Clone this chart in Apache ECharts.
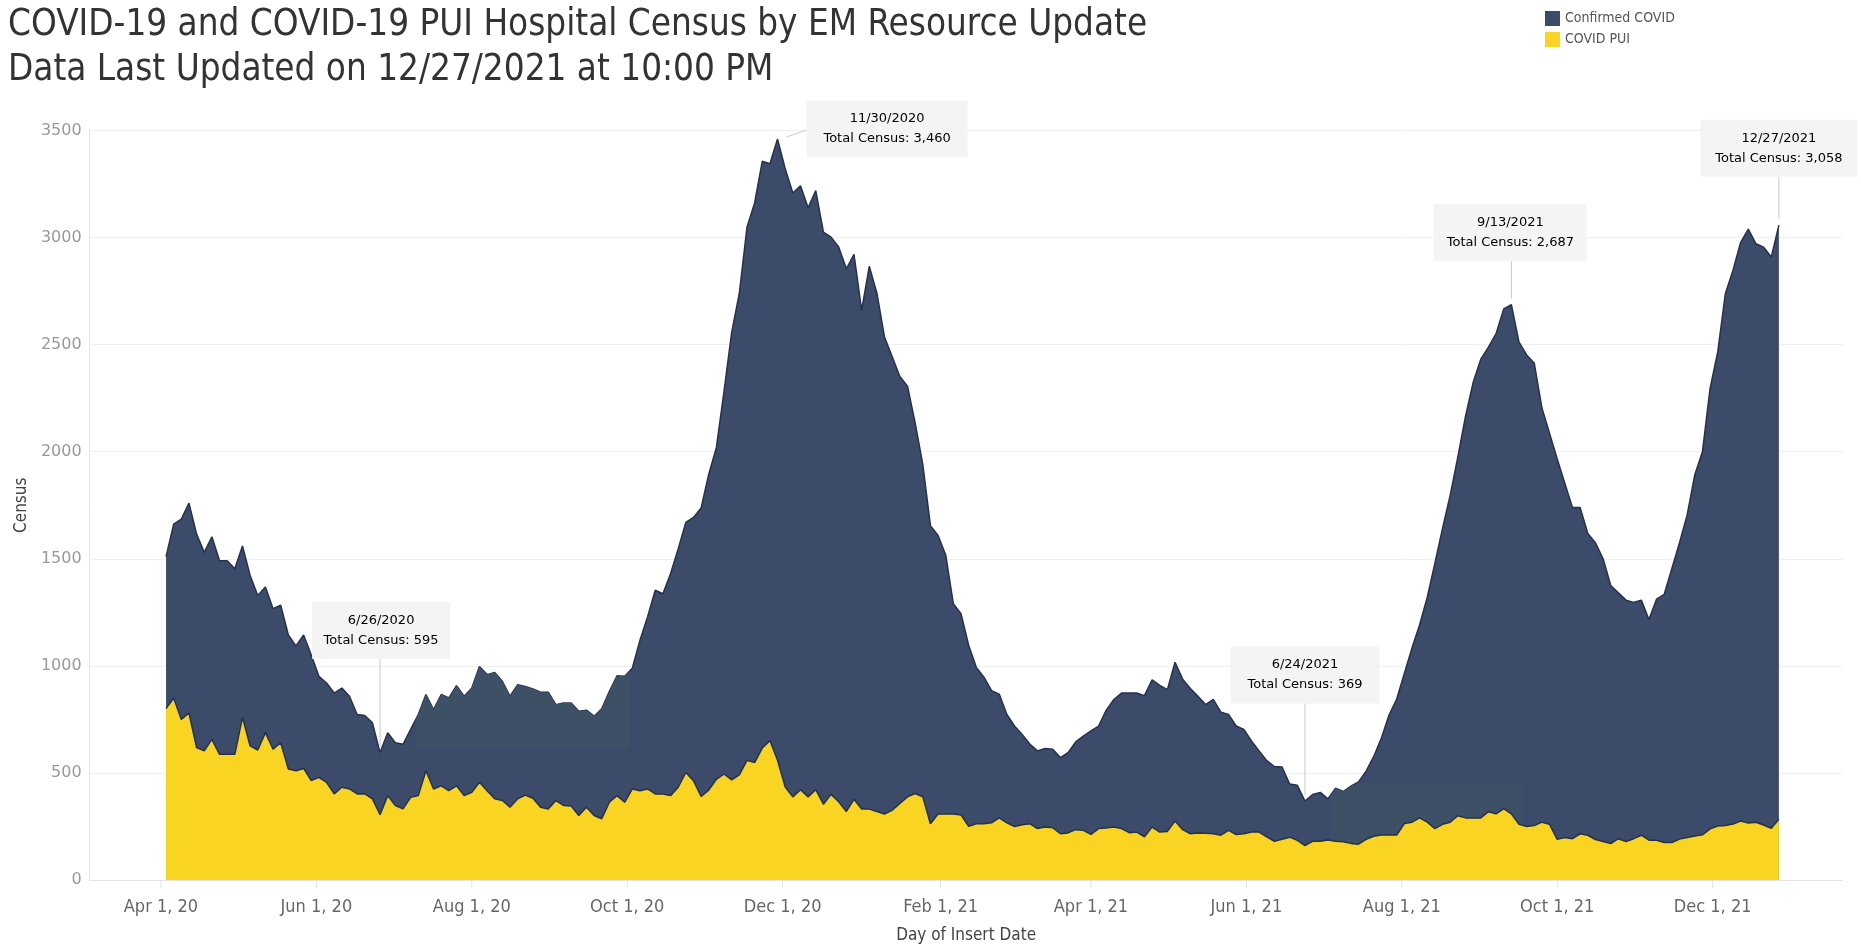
<!DOCTYPE html>
<html>
<head>
<meta charset="utf-8">
<title>COVID-19 Hospital Census</title>
<script src="https://cdn.jsdelivr.net/npm/echarts@6/dist/echarts.min.js"></script>
<style>
html, body { margin: 0; padding: 0; background: #fff; }
#main { width: 1861px; height: 949px; }
</style>
</head>
<body>
<div id="main"></div>
<script>
// samples every 3 days, first one 2020-04-03, last one 2021-12-27
var firstDate = '2020-04-03';
var stepDays = 3;

var totalCensus = [
    1510, 1662, 1685, 1760, 1615, 1530, 1603, 1491, 1491, 1453,
    1560, 1422, 1329, 1368, 1267, 1283, 1144, 1093, 1144, 1051,
    951, 920, 873, 896, 858, 773, 768, 734, 595, 688,
    641, 634, 703, 773, 866, 796, 866, 850, 907, 858,
    897, 997, 959, 969, 928, 858, 912, 904, 892, 877,
    877, 819, 827, 827, 788, 793, 765, 799, 881, 954,
    951, 989, 1120, 1229, 1353, 1337, 1430, 1546, 1670, 1693,
    1737, 1895, 2020, 2283, 2557, 2740, 3048, 3162, 3356, 3345,
    3460, 3322, 3208, 3242, 3139, 3219, 3025, 3002, 2956, 2854,
    2922, 2660, 2866, 2740, 2534, 2443, 2351, 2306, 2135, 1941,
    1655, 1609, 1518, 1290, 1244, 1096, 993, 947, 884, 868,
    773, 719, 680, 635, 603, 614, 611, 572, 595, 645,
    672, 696, 719, 793, 843, 873, 873, 873, 861, 935,
    909, 889, 1017, 938, 894, 858, 819, 843, 784, 773,
    719, 703, 649, 603, 557, 530, 528, 448, 442, 369,
    399, 409, 379, 429, 413, 438, 458, 508, 577, 663,
    770, 845, 964, 1083, 1192, 1321, 1480, 1643, 1797, 1976,
    2165, 2323, 2432, 2488, 2551, 2667, 2687, 2512, 2452, 2413,
    2204, 2085, 1966, 1852, 1739, 1739, 1618, 1575, 1500, 1375,
    1341, 1307, 1296, 1307, 1216, 1312, 1334, 1455, 1575, 1705,
    1893, 2000, 2296, 2466, 2739, 2848, 2978, 3039, 2971, 2955,
    2909, 3058
];

// COVID PUI census, top edge of the yellow area
var puiCensus = [
    800, 850, 750, 780, 618, 603, 657, 587, 587, 587,
    760, 626, 607, 688, 611, 641, 518, 510, 521, 464,
    479, 456, 402, 433, 425, 402, 402, 379, 305, 394,
    348, 332, 386, 394, 510, 425, 440, 417, 440, 394,
    410, 456, 417, 379, 371, 340, 379, 397, 382, 340,
    332, 371, 348, 345, 301, 340, 301, 286, 363, 394,
    363, 425, 417, 425, 402, 402, 394, 433, 502, 464,
    390, 420, 470, 495, 468, 491, 559, 548, 616, 651,
    559, 434, 388, 422, 388, 422, 354, 400, 365, 320,
    377, 331, 331, 320, 308, 326, 358, 388, 404, 388,
    263, 308, 308, 308, 304, 251, 263, 263, 267, 290,
    267, 250, 258, 263, 240, 247, 244, 216, 220, 235,
    232, 213, 240, 243, 247, 240, 221, 224, 202, 247,
    224, 227, 275, 235, 216, 220, 218, 216, 209, 232,
    212, 216, 224, 224, 201, 181, 190, 200, 185, 161,
    181, 181, 187, 181, 179, 171, 167, 190, 204, 210,
    210, 210, 264, 270, 290, 270, 240, 260, 270, 300,
    290, 290, 290, 319, 309, 333, 309, 260, 250, 254,
    270, 260, 190, 198, 193, 216, 209, 189, 180, 170,
    193, 180, 193, 209, 186, 186, 175, 175, 191, 198,
    205, 211, 239, 252, 254, 261, 275, 266, 270, 257,
    241, 284
];

var tickDates = ['2020-04-01', '2020-06-01', '2020-08-01', '2020-10-01', '2020-12-01',
    '2021-02-01', '2021-04-01', '2021-06-01', '2021-08-01', '2021-10-01', '2021-12-01'];
var monthNames = ['Jan', 'Feb', 'Mar', 'Apr', 'May', 'Jun', 'Jul', 'Aug', 'Sep', 'Oct', 'Nov', 'Dec'];

// annotated points
var noteDates = ['2020-06-26', '2020-11-30', '2021-06-24', '2021-09-13', '2021-12-27'];
var noteValues = [595, 3460, 369, 2687, 3058];

// faint lighter bands inside the dark area: [from, to, low value, high value]
var bands = [
    ['2020-07-10', '2020-10-02', 614, 1100],
    ['2021-07-04', '2021-09-17', 0, 454]
];

var narrowFont = "'Liberation Sans Narrow', 'Arial Narrow', 'DejaVu Sans Condensed', sans-serif";
var wideFont = "'DejaVu Sans', Verdana, sans-serif";

function toTime(str) {
    var p = str.split('-');
    return new Date(+p[0], +p[1] - 1, +p[2]).getTime();
}

function withCommas(n) {
    return String(n).replace(/\B(?=(\d{3})+(?!\d))/g, ',');
}

var start = toTime(firstDate);
var dates = [];
for (var i = 0; i < totalCensus.length; i++) {
    var d = new Date(start);
    d.setDate(d.getDate() + i * stepDays);
    dates.push(d.getTime());
}

function pairs(values) {
    var out = [];
    for (var i = 0; i < values.length; i++) {
        out.push([dates[i], values[i]]);
    }
    return out;
}

var dom = document.getElementById('main');
var myChart = echarts.init(dom);

var option = {
    animation: false,
    backgroundColor: '#fff',
    title: {
        text: 'COVID-19 and COVID-19 PUI Hospital Census by EM Resource Update\nData Last Updated on 12/27/2021 at 10:00 PM',
        left: 3,
        top: -2,
        textStyle: {
            fontFamily: narrowFont,
            fontSize: 36.5,
            fontWeight: 'normal',
            lineHeight: 45,
            color: '#333'
        }
    },
    legend: {
        orient: 'vertical',
        left: 1540,
        top: 6,
        itemWidth: 15,
        itemHeight: 15,
        itemGap: 6,
        icon: 'rect',
        textStyle: { fontFamily: narrowFont, fontSize: 14, color: '#555' },
        data: [
            { name: 'Confirmed COVID', itemStyle: { color: '#3b4b69' } },
            { name: 'COVID PUI', itemStyle: { color: '#f9d423' } }
        ]
    },
    grid: {
        left: 89.6,
        right: 18.4,
        top: 130.5,
        bottom: 64
    },
    xAxis: {
        type: 'time',
        min: toTime('2020-03-04'),
        max: toTime('2022-01-21'),
        name: 'Day of Insert Date',
        nameLocation: 'middle',
        nameGap: 47,
        nameTextStyle: { fontFamily: narrowFont, fontSize: 17, color: '#444' },
        axisLine: { show: true, lineStyle: { color: '#e3e3e3' } },
        axisTick: { show: false },
        splitLine: { show: false },
        axisLabel: { show: false }
    },
    yAxis: {
        type: 'value',
        min: 0,
        max: 3500,
        interval: 500,
        name: 'Census',
        nameLocation: 'middle',
        nameGap: 53,
        nameTextStyle: { fontFamily: narrowFont, fontSize: 17, color: '#444' },
        axisLine: { show: true, lineStyle: { color: '#e3e3e3' } },
        axisTick: { show: false },
        splitLine: { lineStyle: { color: '#efefef' } },
        axisLabel: {
            margin: 8, fontFamily: wideFont, fontSize: 16, color: '#999',
            formatter: function (v) { return String(v); }
        }
    },
    series: [
        {
            name: 'Confirmed COVID',
            type: 'line',
            z: 1,
            data: pairs(totalCensus),
            symbol: 'none',
            color: '#3b4b69',
            lineStyle: { color: '#25324f', width: 1.5 },
            areaStyle: { color: '#3b4b69', opacity: 1 }
        },
        {
            name: 'COVID PUI',
            type: 'line',
            z: 3,
            data: pairs(puiCensus),
            symbol: 'none',
            color: '#f9d423',
            lineStyle: { color: '#25324f', width: 1.5 },
            areaStyle: { color: '#f9d423', opacity: 1 }
        }
    ]
};

if (option && typeof option === 'object') {
    myChart.setOption(option, true);
}

// annotation boxes: centre offset from the point, box width, leader style
var noteBoxes = [
    { dx: 1, dy: -122, w: 138, leader: 'down' },
    { dx: 107, dy: -10, w: 161, leader: 'side' },
    { dx: 0, dy: -126, w: 149, leader: 'down' },
    { dx: -1, dy: -72, w: 153, leader: 'down' },
    { dx: 0, dy: -77, w: 157, leader: 'down' }
];

function tickLabel(str) {
    var p = str.split('-');
    return monthNames[+p[1] - 1] + ' ' + (+p[2]) + ', ' + p[0].slice(2);
}

function toPx(t, v) {
    return myChart.convertToPixel({ gridIndex: 0 }, [t, v]);
}

// pixel y of the total line at time t
function totalYAt(t) {
    for (var i = 1; i < dates.length; i++) {
        if (dates[i] >= t) {
            var a = toPx(dates[i - 1], totalCensus[i - 1]);
            var b = toPx(dates[i], totalCensus[i]);
            var x = toPx(t, 0)[0];
            var k = (x - a[0]) / (b[0] - a[0]);
            return a[1] + (b[1] - a[1]) * k;
        }
    }
    return toPx(dates[dates.length - 1], totalCensus[totalCensus.length - 1])[1];
}

function drawExtras() {
    var elements = [];
    // lighter bands
    for (var j = 0; j < bands.length; j++) {
        var t1 = toTime(bands[j][0]), t2 = toTime(bands[j][1]);
        var lowY = toPx(t1, bands[j][2])[1];
        var highY = toPx(t1, bands[j][3])[1];
        var pts = [];
        var x1 = toPx(t1, 0)[0], x2 = toPx(t2, 0)[0];
        pts.push([x1, lowY]);
        pts.push([x1, Math.max(totalYAt(t1), highY)]);
        for (var n = 0; n < dates.length; n++) {
            if (dates[n] > t1 && dates[n] < t2) {
                var pp = toPx(dates[n], totalCensus[n]);
                pts.push([pp[0], Math.max(pp[1], highY)]);
            }
        }
        pts.push([x2, Math.max(totalYAt(t2), highY)]);
        pts.push([x2, lowY]);
        elements.push({
            type: 'polygon',
            silent: true,
            z: 2,
            shape: { points: pts },
            style: { fill: 'rgb(61,80,102)' }
        });
    }
    // x tick marks and labels at the first day of every second month
    for (var t = 0; t < tickDates.length; t++) {
        var q = toPx(toTime(tickDates[t]), 0);
        elements.push({
            type: 'line',
            silent: true,
            shape: { x1: q[0], y1: q[1], x2: q[0], y2: q[1] + 8 },
            style: { stroke: '#e3e3e3', lineWidth: 1 }
        });
        elements.push({
            type: 'text',
            silent: true,
            x: q[0],
            y: q[1] + 27,
            style: {
                text: tickLabel(tickDates[t]),
                align: 'center',
                verticalAlign: 'middle',
                font: '18px ' + narrowFont,
                fill: '#666'
            }
        });
    }
    // annotation boxes
    for (var i = 0; i < noteDates.length; i++) {
        var p = toPx(toTime(noteDates[i]), noteValues[i]);
        var b = noteBoxes[i];
        var cx = p[0] + b.dx, cy = p[1] + b.dy, h = 57;
        var parts = noteDates[i].split('-');
        var label = (+parts[1]) + '/' + (+parts[2]) + '/' + parts[0];
        var line;
        if (b.leader === 'down') {
            line = [p[0], cy + h / 2, p[0], p[1] - 6];
        } else {
            line = [p[0] + 6, p[1] - 2, cx - b.w / 2, p[1] - 9];
        }
        elements.push({
            type: 'line',
            silent: true,
            z: 10,
            shape: { x1: line[0], y1: line[1], x2: line[2], y2: line[3] },
            style: { stroke: '#c8c8c8', lineWidth: 1 }
        });
        elements.push({
            type: 'rect',
            silent: true,
            z: 11,
            shape: { x: cx - b.w / 2, y: cy - h / 2, width: b.w, height: h },
            style: { fill: 'rgba(243,243,243,0.92)' }
        });
        elements.push({
            type: 'text',
            silent: true,
            z: 12,
            x: cx,
            y: cy,
            style: {
                text: '{d|' + label + '}\n{l|Total Census: }{v|' + withCommas(noteValues[i]) + '}',
                align: 'center',
                verticalAlign: 'middle',
                rich: {
                    d: { fontFamily: wideFont, fontSize: 13, color: '#333', lineHeight: 20 },
                    l: { fontFamily: wideFont, fontSize: 13, color: '#999', lineHeight: 20 },
                    v: { fontFamily: wideFont, fontSize: 13, color: '#333', lineHeight: 20 }
                }
            }
        });
    }
    myChart.setOption({ graphic: elements });
}

drawExtras();
</script>
</body>
</html>
